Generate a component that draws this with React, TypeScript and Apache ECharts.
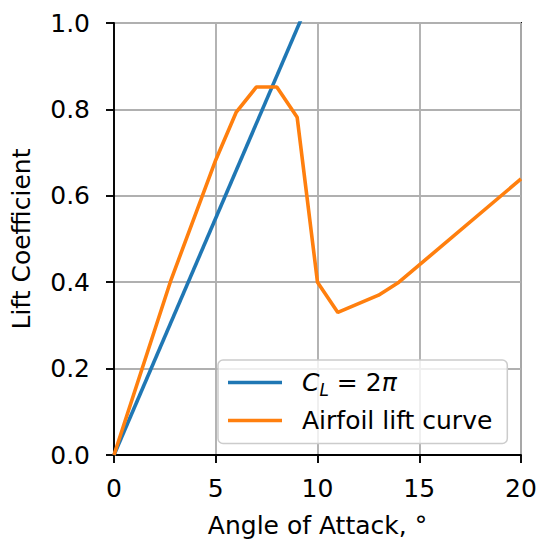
import React, { useEffect, useRef } from "react";
import * as echarts from "echarts";

const xTicks = [0, 5, 10, 15, 20];
const yTicks = [0.0, 0.2, 0.4, 0.6, 0.8, 1.0];

const thinAngles = [0, 10];
const thinCL = [0, 1.097];

const airfoilAngles = [0, 2.8, 5, 6, 7, 8, 9, 10, 11, 13, 14, 20];
const airfoilCL = [0, 0.405, 0.683, 0.793, 0.852, 0.852, 0.782, 0.4, 0.33, 0.37, 0.4, 0.639];

const seriesNames = ["C_L = 2π", "Airfoil lift curve"];
const xLabel = "Angle of Attack, °";
const yLabel = "Lift Coefficient";

const FONT = "DejaVu Sans";

export default function App() {
  const ref = useRef<HTMLDivElement>(null);
  useEffect(() => {
    if (!ref.current) return;
    const chart = echarts.init(ref.current, null, { renderer: "svg" });
    const fs = 25;
    chart.setOption({
      animation: false,
      backgroundColor: "#ffffff",
      grid: {
        left: 114,
        top: 23,
        width: 407,
        height: 432,
        show: true,
        borderColor: "#000000",
        borderWidth: 1.9,
        backgroundColor: "transparent",
      },
      xAxis: {
        type: "value",
        min: xTicks[0],
        max: xTicks[xTicks.length - 1],
        interval: 5,
        name: xLabel,
        nameLocation: "middle",
        nameGap: 58,
        nameTextStyle: { fontFamily: FONT, fontSize: fs, color: "#000" },
        axisLine: { show: true, lineStyle: { color: "#000", width: 1.9 } },
        axisTick: { show: true, length: 8, lineStyle: { color: "#000", width: 1.9 } },
        axisLabel: { margin: 21, fontFamily: FONT, fontSize: fs, color: "#000" },
        splitLine: { show: true, lineStyle: { color: "#b0b0b0", width: 1.9 } },
      },
      yAxis: {
        type: "value",
        min: yTicks[0],
        max: yTicks[yTicks.length - 1],
        interval: 0.2,
        name: yLabel,
        nameLocation: "middle",
        nameGap: 80,
        nameTextStyle: { fontFamily: FONT, fontSize: fs, color: "#000" },
        axisLine: { show: true, lineStyle: { color: "#000", width: 1.9 } },
        axisTick: { show: true, length: 8, lineStyle: { color: "#000", width: 1.9 } },
        axisLabel: {
          margin: 24,
          fontFamily: FONT,
          fontSize: fs,
          color: "#000",
          formatter: (v: number) => v.toFixed(1),
        },
        splitLine: { show: true, lineStyle: { color: "#b0b0b0", width: 1.9 } },
      },
      legend: {
        orient: "vertical",
        left: 218,
        top: 360,
        padding: [7, 15, 9, 10],
        itemWidth: 54,
        itemHeight: 3.6,
        itemGap: 8.5,
        backgroundColor: "rgba(255,255,255,0.8)",
        borderColor: "#cccccc",
        borderWidth: 1.5,
        borderRadius: 5,
        data: seriesNames.map((n) => ({ name: n, icon: "rect" })),
        formatter: (name: string) =>
          name === seriesNames[0] ? "{i|C}{s|L}{n| = 2}{i|π}" : name,
        textStyle: {
          fontFamily: FONT,
          fontSize: fs,
          lineHeight: 28,
          color: "#000",
          padding: [0, 0, 0, 15],
          rich: {
            i: { fontFamily: FONT, fontSize: fs, lineHeight: 28, fontStyle: "italic", color: "#000" },
            s: {
              fontFamily: FONT,
              fontSize: 17,
              lineHeight: 28,
              fontStyle: "italic",
              color: "#000",
              padding: [14, 0, 0, 0],
            },
            n: { fontFamily: FONT, fontSize: fs, lineHeight: 28, color: "#000" },
          },
        },
      },
      series: [
        {
          name: seriesNames[0],
          type: "line",
          symbol: "none",
          clip: true,
          data: thinAngles.map((a, i) => [a, thinCL[i]]),
          lineStyle: { color: "#1f77b4", width: 3.6 },
          itemStyle: { color: "#1f77b4" },
        },
        {
          name: seriesNames[1],
          type: "line",
          symbol: "none",
          clip: true,
          data: airfoilAngles.map((a, i) => [a, airfoilCL[i]]),
          lineStyle: { color: "#ff7f0e", width: 3.6 },
          itemStyle: { color: "#ff7f0e" },
        },
      ],
    });
    return () => chart.dispose();
  }, []);
  return (
    <div
      ref={ref}
      style={{ position: "fixed", left: 0, top: 0, width: 550, height: 548 }}
    />
  );
}
